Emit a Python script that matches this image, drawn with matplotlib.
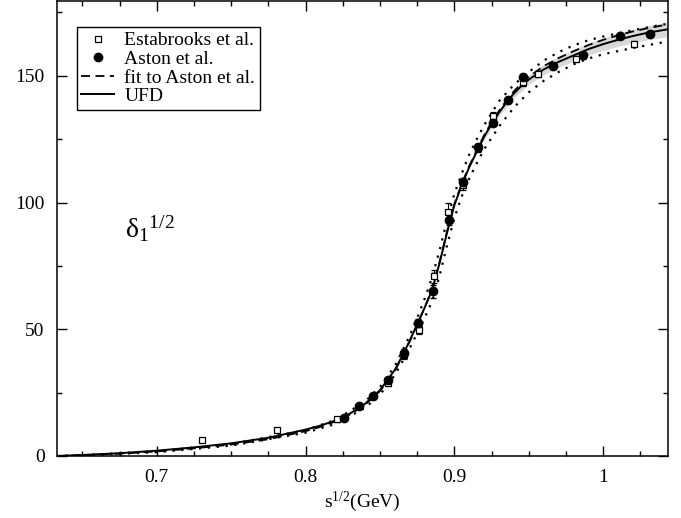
import matplotlib
matplotlib.use("Agg")
import matplotlib.pyplot as plt
from matplotlib.lines import Line2D
import numpy as np

plt.rcParams['font.family'] = ['Liberation Serif', 'DejaVu Serif']
plt.rcParams['mathtext.fontset'] = 'custom'
plt.rcParams['mathtext.rm'] = 'Liberation Serif'
plt.rcParams['mathtext.it'] = 'Liberation Serif:italic'

# ---- data ----
ufd_x = [0.633, 0.65, 0.675, 0.70, 0.725, 0.75, 0.775, 0.80, 0.81, 0.82, 0.83, 0.84, 0.85,
         0.86, 0.865, 0.87, 0.875, 0.88, 0.885, 0.89, 0.895, 0.90, 0.905, 0.91, 0.915, 0.92,
         0.925, 0.93, 0.935, 0.94, 0.945, 0.95, 0.96, 0.97, 0.98, 0.99, 1.00, 1.01, 1.02,
         1.03, 1.043]
ufd_y = [0.0, 0.4, 1.1, 2.1, 3.4, 5.0, 7.2, 10.4, 12.0, 14.0, 16.8, 20.6, 26.0,
         34.0, 39.5, 45.5, 52.0, 58.5, 65.5, 76.0, 88.0, 99.0, 107.0, 114.0, 120.0, 126.0,
         131.0, 135.5, 139.5, 143.0, 146.0, 148.5, 152.5, 155.5, 158.0, 160.5, 162.5, 164.2, 165.7,
         167.0, 168.3]

fit_x = [0.633, 0.65, 0.675, 0.70, 0.725, 0.75, 0.775, 0.80, 0.81, 0.82, 0.83, 0.84, 0.85,
         0.86, 0.865, 0.87, 0.875, 0.88, 0.885, 0.89, 0.895, 0.90, 0.905, 0.91, 0.915, 0.92,
         0.925, 0.93, 0.935, 0.94, 0.945, 0.95, 0.96, 0.97, 0.98, 0.99, 1.00, 1.01, 1.02,
         1.03, 1.043]
fit_y = [0.0, 0.3, 0.9, 1.8, 3.0, 4.5, 6.6, 9.8, 11.5, 13.6, 16.4, 20.2, 25.6,
         33.6, 39.2, 45.2, 51.8, 58.5, 65.8, 76.5, 88.5, 99.5, 107.5, 114.5, 120.6, 126.6,
         131.7, 136.2, 140.3, 143.9, 147.0, 149.6, 153.8, 157.0, 159.7, 162.1, 164.2, 166.0, 167.5,
         168.8, 170.2]

dotu_x = [0.633, 0.65, 0.70, 0.75, 0.80, 0.82, 0.84, 0.85, 0.86, 0.87, 0.875, 0.88, 0.885,
          0.89, 0.895, 0.90, 0.905, 0.91, 0.915, 0.92, 0.93, 0.94, 0.95, 0.96, 0.97, 0.98,
          0.99, 1.00, 1.02, 1.043]
dotu_y = [0.0, 0.3, 1.9, 4.7, 10.2, 14.2, 21.5, 27.2, 35.5, 47.5, 54.5, 62.0, 70.5,
          81.0, 93.0, 103.5, 111.5, 119.0, 125.0, 130.5, 140.0, 146.5, 151.5, 156.0, 159.3, 162.0,
          164.0, 165.5, 168.0, 170.5]

dotl_x = [0.633, 0.65, 0.70, 0.75, 0.80, 0.82, 0.84, 0.85, 0.86, 0.87, 0.875, 0.88, 0.885,
          0.89, 0.895, 0.90, 0.905, 0.91, 0.915, 0.92, 0.93, 0.94, 0.95, 0.96, 0.97, 0.98,
          0.99, 1.00, 1.02, 1.043]
dotl_y = [0.0, 0.2, 1.5, 4.1, 9.2, 12.6, 19.0, 24.2, 32.0, 42.5, 48.5, 54.5, 61.0,
          71.0, 83.0, 94.0, 102.5, 109.5, 115.5, 121.0, 130.0, 137.5, 143.5, 148.0, 151.5, 154.5,
          156.8, 158.5, 161.0, 163.5]

band_x = [0.915, 0.92, 0.93, 0.94, 0.95, 0.96, 0.97, 0.98, 0.99, 1.00, 1.01, 1.02, 1.03, 1.043]
band_lo = [119.0, 124.8, 134.0, 141.3, 146.6, 150.4, 153.3, 155.7, 158.1, 160.0, 161.6, 163.0, 164.2, 165.4]
band_hi = [121.0, 127.2, 137.0, 144.7, 150.4, 154.6, 157.7, 160.3, 162.9, 165.0, 166.8, 168.4, 169.8, 171.2]

est_x = [0.7307, 0.7805, 0.821, 0.8557, 0.866, 0.876, 0.886, 0.896, 0.906, 0.916, 0.926,
         0.946, 0.956, 0.982, 1.0208]
est_y = [6.3, 10.2, 14.4, 28.7, 39.7, 49.6, 70.9, 96.2, 107.0, 121.5, 134.3,
         147.4, 150.7, 156.6, 162.5]
est_err = [0.8, 0.8, 0.8, 1.2, 1.5, 1.5, 2.5, 3.5, 2.0, 1.5, 1.5, 1.5, 1.2, 1.2, 1.2]

ast_x = [0.8256, 0.8356, 0.8456, 0.8557, 0.8658, 0.8756, 0.8857, 0.8962, 0.9058, 0.916,
         0.926, 0.936, 0.946, 0.966, 0.9866, 1.0114, 1.0315]
ast_y = [15.0, 19.7, 23.6, 30.0, 40.6, 52.5, 65.0, 93.2, 108.0, 122.0,
         131.3, 140.5, 149.6, 154.0, 158.0, 165.7, 166.5]
ast_err = [0.8, 0.8, 1.0, 1.2, 1.5, 1.5, 2.5, 2.0, 1.5, 1.2, 1.2, 1.2, 1.2, 1.2, 1.2, 1.2, 1.2]

x_ticks = [0.7, 0.8, 0.9, 1.0]
x_ticklabels = ['0.7', '0.8', '0.9', '1']
y_ticks = [0, 50, 100, 150]
y_ticklabels = ['0', '50', '100', '150']

legend_labels = ['Estabrooks et al.', 'Aston et al.', 'fit to Aston et al.', 'UFD']

# ---- figure ----
fig = plt.figure(figsize=(6.81, 5.18), dpi=100)
ax = fig.add_axes([57/681, 62/518, 611/681, 455/518])

ax.fill_between(band_x, band_lo, band_hi, color='#d9d9d9', lw=0, zorder=1)
ax.plot(dotu_x, dotu_y, color='black', ls=(0, (1, 3)), lw=1.6, zorder=2)
ax.plot(dotl_x, dotl_y, color='black', ls=(0, (1, 3)), lw=1.6, zorder=2)
ax.plot(fit_x, fit_y, color='black', ls=(0, (5, 3)), lw=1.3, zorder=3)
ax.plot(ufd_x, ufd_y, color='black', ls='-', lw=1.4, zorder=3)

ax.errorbar(est_x, est_y, yerr=est_err, fmt='s', mfc='white', mec='black', mew=0.9,
            ms=5, ecolor='black', elinewidth=0.8, capsize=2.5, zorder=4)
ax.errorbar(ast_x, ast_y, yerr=ast_err, fmt='o', mfc='black', mec='black',
            ms=6, ecolor='black', elinewidth=0.8, capsize=2.5, zorder=5)

ax.set_xlim(0.633, 1.0435)
ax.set_ylim(0, 179.5)
ax.set_xticks(x_ticks)
ax.set_xticklabels(x_ticklabels)
ax.set_yticks(y_ticks)
ax.set_yticklabels(y_ticklabels)
ax.set_xticks(np.arange(0.65, 1.04, 0.025), minor=True)
ax.set_yticks([25, 75, 125, 175], minor=True)
ax.tick_params(which='both', direction='in', top=True, right=True, labelsize=14, width=1.0)
ax.tick_params(which='major', length=7)
ax.tick_params(which='minor', length=3.5)
ax.tick_params(axis='y', which='major', pad=9)
ax.tick_params(axis='x', which='major', pad=9)
for s in ax.spines.values():
    s.set_linewidth(1.1)

ax.set_xlabel(r'$\mathregular{s^{1/2}}$(GeV)', fontsize=14, labelpad=3)
ax.text(0.6785, 86, r'$\mathrm{\delta}_{1}{}^{1/2}$', fontsize=20)

handles = [
    Line2D([], [], ls='none', marker='s', mfc='white', mec='black', mew=0.9, ms=5),
    Line2D([], [], ls='none', marker='o', mfc='black', mec='black', ms=6),
    Line2D([], [], color='black', ls=(0, (5, 3)), lw=1.3),
    Line2D([], [], color='black', ls='-', lw=1.4),
]
leg = ax.legend(handles, legend_labels, loc='upper left',
                bbox_to_anchor=(0.032, 0.943), fontsize=14, frameon=True, fancybox=False,
                edgecolor='black', framealpha=1, borderpad=0.25, labelspacing=0.05,
                handlelength=1.7, handletextpad=0.5, borderaxespad=0)
leg.get_frame().set_linewidth(1.0)

fig.savefig('out.png', dpi=100)
